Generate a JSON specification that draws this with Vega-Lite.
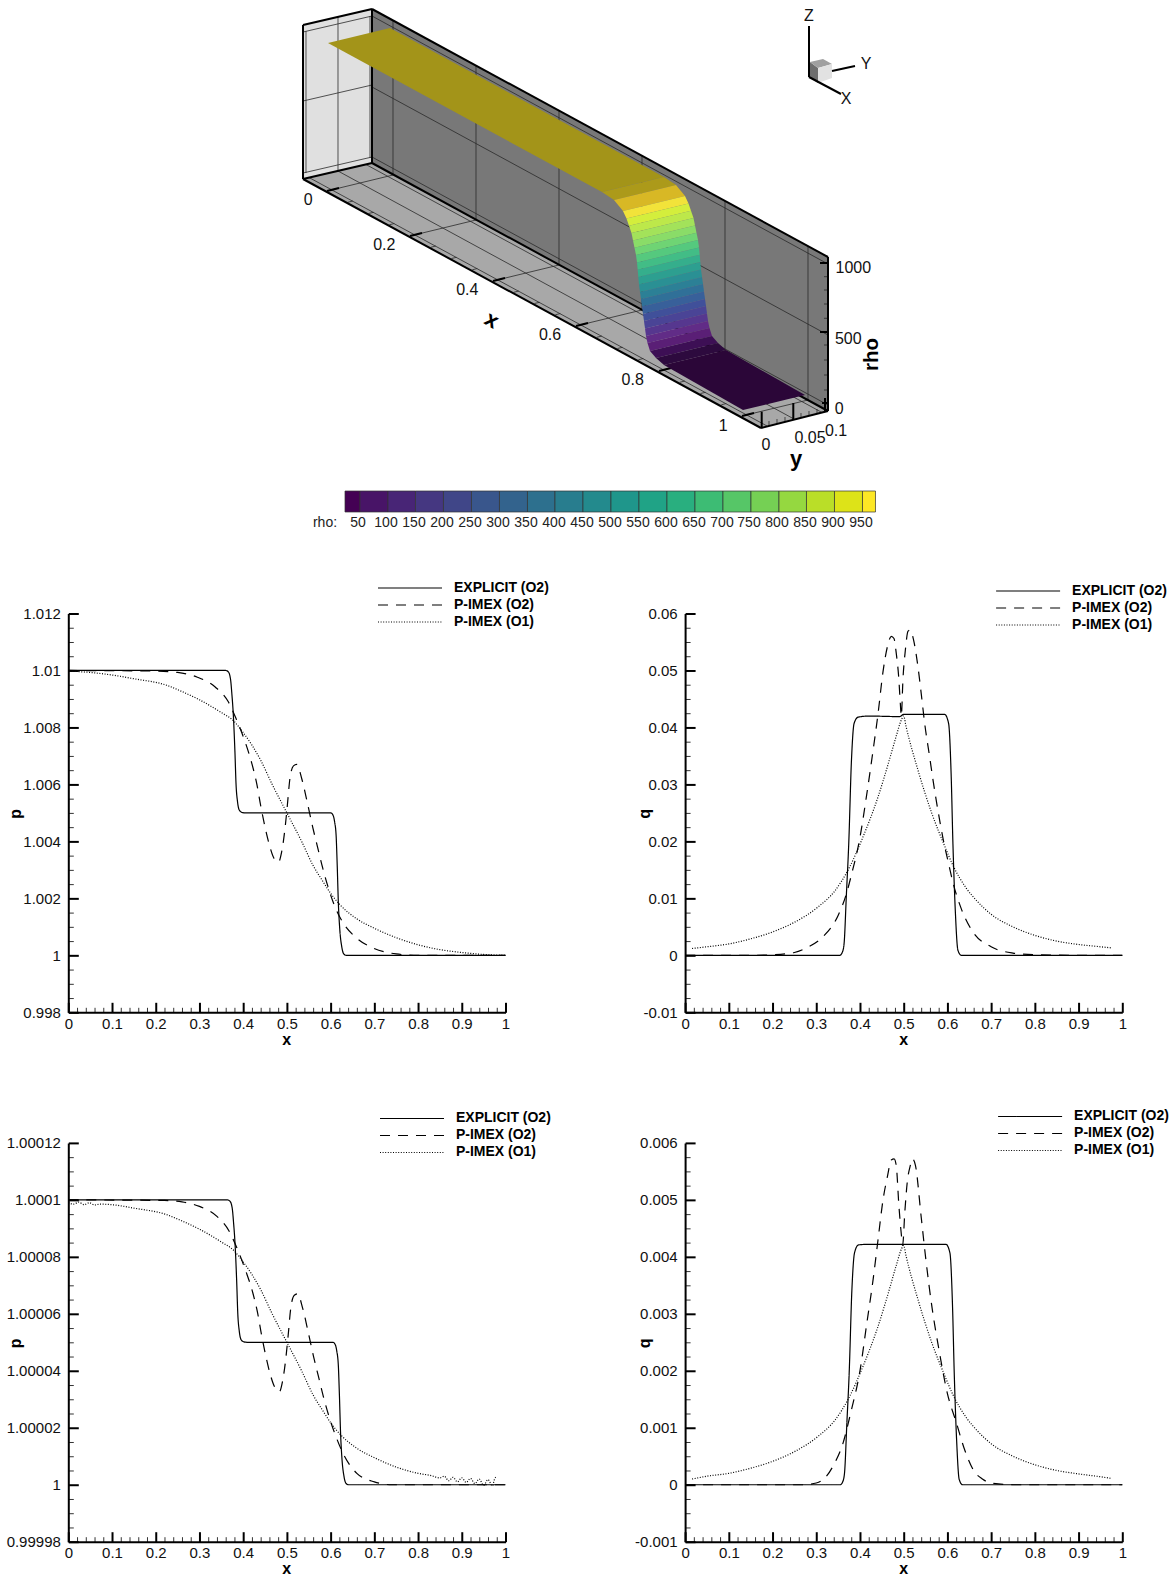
{
"$schema":"https://vega.github.io/schema/vega-lite/v6.json",
"padding":{"left":5.3,"top":0,"right":0,"bottom":0},
"bounds":"flush",
"spacing":53.5,
"resolve":{"scale":{"strokeDash":"independent","fill":"independent"},"legend":{"strokeDash":"independent"}},
"config":{"font":"Liberation Sans","view":{"stroke":null},
 "axis":{"grid":false,"domainColor":"#000","domainWidth":2,"labelColor":"#111","labelFontSize":15,"labelOverlap":false,"labelBound":false,"labelFlush":false,"titleFontSize":16,"titleFontWeight":"bold","titleColor":"#000","tickRound":false},
 "legend":{"orient":"none","title":null,"labelFontSize":14,"labelFontWeight":"bold","labelColor":"#000","symbolType":"M0,0H64","symbolSize":4,"symbolStrokeColor":"#000","symbolStrokeWidth":1.2,"labelOffset":69,"rowPadding":3,"padding":0}},
"datasets":{
"faces":[
{"part":"end","o":0,"a":303,"b":25},{"part":"end","o":1,"a":372,"b":9},{"part":"end","o":2,"a":372,"b":163},{"part":"end","o":3,"a":303,"b":179},
{"part":"wall","o":0,"a":372,"b":9},{"part":"wall","o":1,"a":828,"b":257},{"part":"wall","o":2,"a":828,"b":411},{"part":"wall","o":3,"a":372,"b":163},
{"part":"floor","o":0,"a":303,"b":179},{"part":"floor","o":1,"a":372,"b":163},{"part":"floor","o":2,"a":828,"b":411},{"part":"floor","o":3,"a":761,"b":428},
{"part":"cube left","o":0,"a":810,"b":62},{"part":"cube left","o":1,"a":818,"b":68},{"part":"cube left","o":2,"a":818,"b":83},{"part":"cube left","o":3,"a":809,"b":77},
{"part":"cube top","o":0,"a":810,"b":62},{"part":"cube top","o":1,"a":823,"b":59},{"part":"cube top","o":2,"a":832,"b":64},{"part":"cube top","o":3,"a":818,"b":68},
{"part":"cube right","o":0,"a":818,"b":68},{"part":"cube right","o":1,"a":832,"b":64},{"part":"cube right","o":2,"a":832,"b":78},{"part":"cube right","o":3,"a":818,"b":83}],
"surface":[
{"part":"s00","o":0,"a":390,"b":28},{"part":"s00","o":1,"a":664,"b":177},{"part":"s00","o":2,"a":602,"b":192},{"part":"s00","o":3,"a":328,"b":43},
{"part":"s01","o":0,"a":664,"b":177},{"part":"s01","o":1,"a":676,"b":185},{"part":"s01","o":2,"a":614,"b":200},{"part":"s01","o":3,"a":602,"b":192},
{"part":"s02","o":0,"a":676,"b":185},{"part":"s02","o":1,"a":685,"b":196},{"part":"s02","o":2,"a":623,"b":211},{"part":"s02","o":3,"a":614,"b":200},
{"part":"s03","o":0,"a":685,"b":196},{"part":"s03","o":1,"a":688.5,"b":203.4},{"part":"s03","o":2,"a":626.5,"b":218.4},{"part":"s03","o":3,"a":623,"b":211},
{"part":"s04","o":0,"a":688.5,"b":203.4},{"part":"s04","o":1,"a":691,"b":210.7},{"part":"s04","o":2,"a":629,"b":225.7},{"part":"s04","o":3,"a":626.5,"b":218.4},
{"part":"s05","o":0,"a":691,"b":210.7},{"part":"s05","o":1,"a":693.5,"b":218},{"part":"s05","o":2,"a":631.5,"b":233},{"part":"s05","o":3,"a":629,"b":225.7},
{"part":"s06","o":0,"a":693.5,"b":218},{"part":"s06","o":1,"a":695,"b":225.4},{"part":"s06","o":2,"a":633,"b":240.4},{"part":"s06","o":3,"a":631.5,"b":233},
{"part":"s07","o":0,"a":695,"b":225.4},{"part":"s07","o":1,"a":696.5,"b":232.8},{"part":"s07","o":2,"a":634.5,"b":247.8},{"part":"s07","o":3,"a":633,"b":240.4},
{"part":"s08","o":0,"a":696.5,"b":232.8},{"part":"s08","o":1,"a":698,"b":240},{"part":"s08","o":2,"a":636,"b":255},{"part":"s08","o":3,"a":634.5,"b":247.8},
{"part":"s09","o":0,"a":698,"b":240},{"part":"s09","o":1,"a":699,"b":247.5},{"part":"s09","o":2,"a":637,"b":262.5},{"part":"s09","o":3,"a":636,"b":255},
{"part":"s10","o":0,"a":699,"b":247.5},{"part":"s10","o":1,"a":699.7,"b":254.8},{"part":"s10","o":2,"a":637.7,"b":269.8},{"part":"s10","o":3,"a":637,"b":262.5},
{"part":"s11","o":0,"a":699.7,"b":254.8},{"part":"s11","o":1,"a":700.3,"b":262},{"part":"s11","o":2,"a":638.3,"b":277},{"part":"s11","o":3,"a":637.7,"b":269.8},
{"part":"s12","o":0,"a":700.3,"b":262},{"part":"s12","o":1,"a":701,"b":269.5},{"part":"s12","o":2,"a":639,"b":284.5},{"part":"s12","o":3,"a":638.3,"b":277},
{"part":"s13","o":0,"a":701,"b":269.5},{"part":"s13","o":1,"a":702,"b":276.9},{"part":"s13","o":2,"a":640,"b":291.9},{"part":"s13","o":3,"a":639,"b":284.5},
{"part":"s14","o":0,"a":702,"b":276.9},{"part":"s14","o":1,"a":703,"b":284},{"part":"s14","o":2,"a":641,"b":299},{"part":"s14","o":3,"a":640,"b":291.9},
{"part":"s15","o":0,"a":703,"b":284},{"part":"s15","o":1,"a":704,"b":291.6},{"part":"s15","o":2,"a":642,"b":306.6},{"part":"s15","o":3,"a":641,"b":299},
{"part":"s16","o":0,"a":704,"b":291.6},{"part":"s16","o":1,"a":705,"b":299},{"part":"s16","o":2,"a":643,"b":314},{"part":"s16","o":3,"a":642,"b":306.6},
{"part":"s17","o":0,"a":705,"b":299},{"part":"s17","o":1,"a":706,"b":306},{"part":"s17","o":2,"a":644,"b":321},{"part":"s17","o":3,"a":643,"b":314},
{"part":"s18","o":0,"a":706,"b":306},{"part":"s18","o":1,"a":707,"b":313.6},{"part":"s18","o":2,"a":645,"b":328.6},{"part":"s18","o":3,"a":644,"b":321},
{"part":"s19","o":0,"a":707,"b":313.6},{"part":"s19","o":1,"a":708,"b":321},{"part":"s19","o":2,"a":646,"b":336},{"part":"s19","o":3,"a":645,"b":328.6},
{"part":"s20","o":0,"a":708,"b":321},{"part":"s20","o":1,"a":709.5,"b":328},{"part":"s20","o":2,"a":647.5,"b":343},{"part":"s20","o":3,"a":646,"b":336},
{"part":"s21","o":0,"a":709.5,"b":328},{"part":"s21","o":1,"a":712,"b":336},{"part":"s21","o":2,"a":650,"b":351},{"part":"s21","o":3,"a":647.5,"b":343},
{"part":"s22","o":0,"a":712,"b":336},{"part":"s22","o":1,"a":718,"b":343},{"part":"s22","o":2,"a":656,"b":358},{"part":"s22","o":3,"a":650,"b":351},
{"part":"s23","o":0,"a":718,"b":343},{"part":"s23","o":1,"a":726,"b":350},{"part":"s23","o":2,"a":664,"b":365},{"part":"s23","o":3,"a":656,"b":358},
{"part":"s24","o":0,"a":726,"b":350},{"part":"s24","o":1,"a":805,"b":395},{"part":"s24","o":2,"a":743,"b":410},{"part":"s24","o":3,"a":664,"b":365}],
"thin":[
{"a":327,"b":191,"c":393,"d":175},{"a":410,"b":236,"c":476,"d":220},{"a":493,"b":281,"c":559,"d":265},{"a":576,"b":326,"c":642,"d":310},{"a":659,"b":371,"c":725,"d":355},{"a":742,"b":416,"c":808,"d":400},
{"a":338,"b":171,"c":794,"d":419},{"a":309,"b":177.5,"c":767,"d":426},{"a":366,"b":164.5,"c":822,"d":412.5},
{"a":393,"b":20.4,"c":393,"d":174.4},{"a":476,"b":65.6,"c":476,"d":219.6},{"a":559,"b":110.7,"c":559,"d":264.7},{"a":642,"b":155.9,"c":642,"d":309.9},{"a":725,"b":201,"c":725,"d":355},{"a":808,"b":246.1,"c":808,"d":400.1},
{"a":372,"b":87,"c":828,"d":335},{"a":372,"b":16,"c":828,"d":264},{"a":372,"b":157,"c":828,"d":405},
{"a":338,"b":17,"c":338,"d":171},{"a":303,"b":101,"c":372,"d":85},{"a":303,"b":32,"c":372,"d":16},{"a":303,"b":173,"c":372,"d":157},{"a":306,"b":31,"c":306,"d":173},{"a":370,"b":16,"c":370,"d":158},
{"a":347.8,"b":202.3,"c":352.8,"d":201},{"a":368.5,"b":213.5,"c":373.5,"d":212.3},{"a":389.3,"b":224.8,"c":394.3,"d":223.5},{"a":430.8,"b":247.3,"c":435.8,"d":246},{"a":451.5,"b":258.5,"c":456.5,"d":257.3},{"a":472.3,"b":269.8,"c":477.3,"d":268.5},{"a":513.8,"b":292.3,"c":518.8,"d":291},{"a":534.5,"b":303.5,"c":539.5,"d":302.3},{"a":555.3,"b":314.8,"c":560.3,"d":313.5},{"a":596.8,"b":337.3,"c":601.8,"d":336},{"a":617.5,"b":348.5,"c":622.5,"d":347.3},{"a":638.3,"b":359.8,"c":643.3,"d":358.5},{"a":679.8,"b":382.3,"c":684.8,"d":381},{"a":700.5,"b":393.5,"c":705.5,"d":392.3},{"a":721.3,"b":404.8,"c":726.3,"d":403.5},
{"a":769,"b":426,"c":769,"d":421},{"a":777,"b":424,"c":777,"d":419},{"a":785,"b":422,"c":785,"d":417},{"a":801,"b":418,"c":801,"d":413},{"a":809,"b":416,"c":809,"d":411},{"a":817,"b":414,"c":817,"d":409},
{"a":824,"b":276.7,"c":828,"d":276.7},{"a":824,"b":290,"c":828,"d":290},{"a":824,"b":304,"c":828,"d":304},{"a":824,"b":318.3,"c":828,"d":318.3},{"a":824,"b":345,"c":828,"d":345},{"a":824,"b":360,"c":828,"d":360},{"a":824,"b":375,"c":828,"d":375},{"a":824,"b":390,"c":828,"d":390}],
"thick":[
{"a":303,"b":25,"c":372,"d":9},{"a":372,"b":9,"c":828,"d":257},{"a":303,"b":25,"c":303,"d":179},{"a":303,"b":179,"c":372,"d":163},{"a":372,"b":9,"c":372,"d":163},{"a":303,"b":179,"c":761,"d":428},{"a":761,"b":428,"c":828,"d":411},{"a":828,"b":257,"c":828,"d":411},{"a":372,"b":163,"c":828,"d":411},
{"a":327,"b":191,"c":339,"d":188},{"a":410,"b":236,"c":422,"d":233},{"a":493,"b":281,"c":505,"d":278},{"a":576,"b":326,"c":588,"d":323},{"a":659,"b":371,"c":671,"d":368},{"a":742,"b":416,"c":754,"d":413},
{"a":761.7,"b":411.7,"c":761.7,"d":427},{"a":793.3,"b":403,"c":793.3,"d":420},{"a":825,"b":398,"c":825,"d":411.7},
{"a":820,"b":263,"c":828,"d":263},{"a":820,"b":332,"c":828,"d":332},{"a":822,"b":403,"c":828,"d":403},
{"a":809,"b":26,"c":809,"d":77},{"a":809,"b":77,"c":841,"d":94},{"a":832,"b":71,"c":855,"d":66}],
"labels":[
{"t":"0","a":308.3,"b":200},{"t":"0.2","a":384.3,"b":245},{"t":"0.4","a":467.3,"b":290},{"t":"0.6","a":550,"b":335},{"t":"0.8","a":632.7,"b":380},{"t":"1","a":723.3,"b":425.7},
{"t":"1000","a":853.3,"b":268.3},{"t":"500","a":848.3,"b":339},{"t":"0","a":839.3,"b":409.3},{"t":"0","a":766,"b":445},{"t":"0.05","a":810,"b":437.7},{"t":"0.1","a":836,"b":430.7},
{"t":"Z","a":809,"b":16},{"t":"Y","a":866,"b":64},{"t":"X","a":846,"b":99}],
"bar":[
{"band":"below 50","a":345,"c":360,"b":491,"d":512},{"band":"50-100","a":360,"c":388,"b":491,"d":512},{"band":"100-150","a":388,"c":415.5,"b":491,"d":512},{"band":"150-200","a":415.5,"c":443.5,"b":491,"d":512},{"band":"200-250","a":443.5,"c":471.5,"b":491,"d":512},{"band":"250-300","a":471.5,"c":499.5,"b":491,"d":512},{"band":"300-350","a":499.5,"c":527.5,"b":491,"d":512},{"band":"350-400","a":527.5,"c":555,"b":491,"d":512},{"band":"400-450","a":555,"c":583,"b":491,"d":512},{"band":"450-500","a":583,"c":611,"b":491,"d":512},{"band":"500-550","a":611,"c":639,"b":491,"d":512},{"band":"550-600","a":639,"c":667,"b":491,"d":512},{"band":"600-650","a":667,"c":695,"b":491,"d":512},{"band":"650-700","a":695,"c":723,"b":491,"d":512},{"band":"700-750","a":723,"c":751,"b":491,"d":512},{"band":"750-800","a":751,"c":779,"b":491,"d":512},{"band":"800-850","a":779,"c":806.5,"b":491,"d":512},{"band":"850-900","a":806.5,"c":834.5,"b":491,"d":512},{"band":"900-950","a":834.5,"c":862.5,"b":491,"d":512},{"band":"above 950","a":862.5,"c":875.5,"b":491,"d":512}],
"barlabels":[{"t":"rho:","a":325,"b":523},{"t":"50","a":358,"b":523},{"t":"100","a":386,"b":523},{"t":"150","a":414,"b":523},{"t":"200","a":442,"b":523},{"t":"250","a":470,"b":523},{"t":"300","a":498,"b":523},{"t":"350","a":526,"b":523},{"t":"400","a":554,"b":523},{"t":"450","a":582,"b":523},{"t":"500","a":610,"b":523},{"t":"550","a":638,"b":523},{"t":"600","a":666,"b":523},{"t":"650","a":694,"b":523},{"t":"700","a":722,"b":523},{"t":"750","a":749,"b":523},{"t":"800","a":777,"b":523},{"t":"850","a":805,"b":523},{"t":"900","a":833,"b":523},{"t":"950","a":861,"b":523}],
"p1":[
{"x":0,"v":1.01,"s":"EXPLICIT (O2)"},{"x":0.36,"v":1.01,"s":"EXPLICIT (O2)"},{"x":0.366,"v":1.00995,"s":"EXPLICIT (O2)"},{"x":0.371,"v":1.0097,"s":"EXPLICIT (O2)"},{"x":0.374,"v":1.0092,"s":"EXPLICIT (O2)"},{"x":0.3776,"v":1.0084,"s":"EXPLICIT (O2)"},{"x":0.381,"v":1.0072,"s":"EXPLICIT (O2)"},{"x":0.3837,"v":1.006,"s":"EXPLICIT (O2)"},{"x":0.387,"v":1.0054,"s":"EXPLICIT (O2)"},{"x":0.391,"v":1.0051,"s":"EXPLICIT (O2)"},{"x":0.397,"v":1.00502,"s":"EXPLICIT (O2)"},{"x":0.405,"v":1.005,"s":"EXPLICIT (O2)"},{"x":0.6,"v":1.005,"s":"EXPLICIT (O2)"},{"x":0.6045,"v":1.00495,"s":"EXPLICIT (O2)"},{"x":0.609,"v":1.0047,"s":"EXPLICIT (O2)"},{"x":0.6126,"v":1.0042,"s":"EXPLICIT (O2)"},{"x":0.615,"v":1.0032,"s":"EXPLICIT (O2)"},{"x":0.6178,"v":1.0018,"s":"EXPLICIT (O2)"},{"x":0.621,"v":1.0009,"s":"EXPLICIT (O2)"},{"x":0.6255,"v":1.0003,"s":"EXPLICIT (O2)"},{"x":0.63,"v":1.00005,"s":"EXPLICIT (O2)"},{"x":0.636,"v":1,"s":"EXPLICIT (O2)"},{"x":1,"v":1,"s":"EXPLICIT (O2)"},
{"x":0,"v":1.01,"s":"P-IMEX (O2)"},{"x":0.2,"v":1.00998,"s":"P-IMEX (O2)"},{"x":0.25,"v":1.00993,"s":"P-IMEX (O2)"},{"x":0.294,"v":1.00977,"s":"P-IMEX (O2)"},{"x":0.336,"v":1.00942,"s":"P-IMEX (O2)"},{"x":0.366,"v":1.0089,"s":"P-IMEX (O2)"},{"x":0.384,"v":1.0083,"s":"P-IMEX (O2)"},{"x":0.4043,"v":1.0075,"s":"P-IMEX (O2)"},{"x":0.4197,"v":1.00674,"s":"P-IMEX (O2)"},{"x":0.431,"v":1.00603,"s":"P-IMEX (O2)"},{"x":0.44,"v":1.00526,"s":"P-IMEX (O2)"},{"x":0.45,"v":1.0045,"s":"P-IMEX (O2)"},{"x":0.46,"v":1.00387,"s":"P-IMEX (O2)"},{"x":0.4707,"v":1.0034,"s":"P-IMEX (O2)"},{"x":0.4806,"v":1.00327,"s":"P-IMEX (O2)"},{"x":0.488,"v":1.00363,"s":"P-IMEX (O2)"},{"x":0.496,"v":1.0045,"s":"P-IMEX (O2)"},{"x":0.501,"v":1.00526,"s":"P-IMEX (O2)"},{"x":0.507,"v":1.00622,"s":"P-IMEX (O2)"},{"x":0.515,"v":1.00665,"s":"P-IMEX (O2)"},{"x":0.5226,"v":1.0067,"s":"P-IMEX (O2)"},{"x":0.534,"v":1.0062,"s":"P-IMEX (O2)"},{"x":0.547,"v":1.00534,"s":"P-IMEX (O2)"},{"x":0.559,"v":1.0045,"s":"P-IMEX (O2)"},{"x":0.57,"v":1.00381,"s":"P-IMEX (O2)"},{"x":0.582,"v":1.00306,"s":"P-IMEX (O2)"},{"x":0.595,"v":1.00236,"s":"P-IMEX (O2)"},{"x":0.61,"v":1.0017,"s":"P-IMEX (O2)"},{"x":0.629,"v":1.00113,"s":"P-IMEX (O2)"},{"x":0.66,"v":1.0006,"s":"P-IMEX (O2)"},{"x":0.698,"v":1.00025,"s":"P-IMEX (O2)"},{"x":0.75,"v":1.00005,"s":"P-IMEX (O2)"},{"x":0.8,"v":1,"s":"P-IMEX (O2)"},{"x":1,"v":1,"s":"P-IMEX (O2)"},
{"x":0,"v":1.00998,"s":"P-IMEX (O1)"},{"x":0.05,"v":1.00993,"s":"P-IMEX (O1)"},{"x":0.1,"v":1.00984,"s":"P-IMEX (O1)"},{"x":0.15,"v":1.00971,"s":"P-IMEX (O1)"},{"x":0.225,"v":1.00948,"s":"P-IMEX (O1)"},{"x":0.26,"v":1.00926,"s":"P-IMEX (O1)"},{"x":0.3,"v":1.00897,"s":"P-IMEX (O1)"},{"x":0.347,"v":1.00855,"s":"P-IMEX (O1)"},{"x":0.38,"v":1.0082,"s":"P-IMEX (O1)"},{"x":0.4,"v":1.00782,"s":"P-IMEX (O1)"},{"x":0.42,"v":1.00738,"s":"P-IMEX (O1)"},{"x":0.44,"v":1.00685,"s":"P-IMEX (O1)"},{"x":0.4654,"v":1.00603,"s":"P-IMEX (O1)"},{"x":0.5,"v":1.005,"s":"P-IMEX (O1)"},{"x":0.5346,"v":1.00397,"s":"P-IMEX (O1)"},{"x":0.56,"v":1.00315,"s":"P-IMEX (O1)"},{"x":0.58,"v":1.00265,"s":"P-IMEX (O1)"},{"x":0.6,"v":1.00218,"s":"P-IMEX (O1)"},{"x":0.623,"v":1.00175,"s":"P-IMEX (O1)"},{"x":0.66,"v":1.00128,"s":"P-IMEX (O1)"},{"x":0.7,"v":1.00095,"s":"P-IMEX (O1)"},{"x":0.75,"v":1.00062,"s":"P-IMEX (O1)"},{"x":0.8,"v":1.00037,"s":"P-IMEX (O1)"},{"x":0.85,"v":1.0002,"s":"P-IMEX (O1)"},{"x":0.9,"v":1.0001,"s":"P-IMEX (O1)"},{"x":0.95,"v":1.00003,"s":"P-IMEX (O1)"},{"x":1,"v":1,"s":"P-IMEX (O1)"}],
"q1":[
{"x":0,"v":0,"s":"EXPLICIT (O2)"},{"x":0.3537,"v":0,"s":"EXPLICIT (O2)"},{"x":0.36,"v":0.0006,"s":"EXPLICIT (O2)"},{"x":0.3637,"v":0.0021,"s":"EXPLICIT (O2)"},{"x":0.369,"v":0.0108,"s":"EXPLICIT (O2)"},{"x":0.3743,"v":0.0196,"s":"EXPLICIT (O2)"},{"x":0.3805,"v":0.0342,"s":"EXPLICIT (O2)"},{"x":0.3865,"v":0.0407,"s":"EXPLICIT (O2)"},{"x":0.3956,"v":0.0418,"s":"EXPLICIT (O2)"},{"x":0.42,"v":0.042,"s":"EXPLICIT (O2)"},{"x":0.4908,"v":0.0419,"s":"EXPLICIT (O2)"},{"x":0.5,"v":0.0423,"s":"EXPLICIT (O2)"},{"x":0.5936,"v":0.0423,"s":"EXPLICIT (O2)"},{"x":0.6027,"v":0.0407,"s":"EXPLICIT (O2)"},{"x":0.6087,"v":0.0313,"s":"EXPLICIT (O2)"},{"x":0.6126,"v":0.0196,"s":"EXPLICIT (O2)"},{"x":0.618,"v":0.0079,"s":"EXPLICIT (O2)"},{"x":0.624,"v":0.0009,"s":"EXPLICIT (O2)"},{"x":0.6316,"v":0,"s":"EXPLICIT (O2)"},{"x":1,"v":0,"s":"EXPLICIT (O2)"},
{"x":0,"v":0,"s":"P-IMEX (O2)"},{"x":0.15,"v":0,"s":"P-IMEX (O2)"},{"x":0.2,"v":0.0001,"s":"P-IMEX (O2)"},{"x":0.25,"v":0.0005,"s":"P-IMEX (O2)"},{"x":0.28,"v":0.0014,"s":"P-IMEX (O2)"},{"x":0.3157,"v":0.0033,"s":"P-IMEX (O2)"},{"x":0.35,"v":0.007,"s":"P-IMEX (O2)"},{"x":0.369,"v":0.0108,"s":"P-IMEX (O2)"},{"x":0.38,"v":0.014,"s":"P-IMEX (O2)"},{"x":0.3995,"v":0.0205,"s":"P-IMEX (O2)"},{"x":0.4146,"v":0.0278,"s":"P-IMEX (O2)"},{"x":0.43,"v":0.036,"s":"P-IMEX (O2)"},{"x":0.4413,"v":0.0424,"s":"P-IMEX (O2)"},{"x":0.4527,"v":0.0498,"s":"P-IMEX (O2)"},{"x":0.4625,"v":0.0541,"s":"P-IMEX (O2)"},{"x":0.4717,"v":0.056,"s":"P-IMEX (O2)"},{"x":0.4778,"v":0.0556,"s":"P-IMEX (O2)"},{"x":0.483,"v":0.053,"s":"P-IMEX (O2)"},{"x":0.4886,"v":0.0488,"s":"P-IMEX (O2)"},{"x":0.4923,"v":0.0442,"s":"P-IMEX (O2)"},{"x":0.4945,"v":0.042,"s":"P-IMEX (O2)"},{"x":0.4984,"v":0.0486,"s":"P-IMEX (O2)"},{"x":0.5037,"v":0.0535,"s":"P-IMEX (O2)"},{"x":0.51,"v":0.0569,"s":"P-IMEX (O2)"},{"x":0.515,"v":0.0571,"s":"P-IMEX (O2)"},{"x":0.5228,"v":0.0553,"s":"P-IMEX (O2)"},{"x":0.5327,"v":0.0506,"s":"P-IMEX (O2)"},{"x":0.5403,"v":0.0458,"s":"P-IMEX (O2)"},{"x":0.548,"v":0.0407,"s":"P-IMEX (O2)"},{"x":0.5594,"v":0.0348,"s":"P-IMEX (O2)"},{"x":0.567,"v":0.0308,"s":"P-IMEX (O2)"},{"x":0.5784,"v":0.0254,"s":"P-IMEX (O2)"},{"x":0.59,"v":0.0205,"s":"P-IMEX (O2)"},{"x":0.6027,"v":0.0161,"s":"P-IMEX (O2)"},{"x":0.6126,"v":0.0128,"s":"P-IMEX (O2)"},{"x":0.6316,"v":0.0082,"s":"P-IMEX (O2)"},{"x":0.6583,"v":0.0041,"s":"P-IMEX (O2)"},{"x":0.7,"v":0.0015,"s":"P-IMEX (O2)"},{"x":0.75,"v":0.0004,"s":"P-IMEX (O2)"},{"x":0.8,"v":0.0001,"s":"P-IMEX (O2)"},{"x":0.9,"v":0,"s":"P-IMEX (O2)"},{"x":1,"v":0,"s":"P-IMEX (O2)"},
{"x":0.016,"v":0.0012,"s":"P-IMEX (O1)"},{"x":0.05,"v":0.0015,"s":"P-IMEX (O1)"},{"x":0.1,"v":0.002,"s":"P-IMEX (O1)"},{"x":0.15,"v":0.0029,"s":"P-IMEX (O1)"},{"x":0.2,"v":0.0041,"s":"P-IMEX (O1)"},{"x":0.25,"v":0.0058,"s":"P-IMEX (O1)"},{"x":0.3043,"v":0.0085,"s":"P-IMEX (O1)"},{"x":0.3424,"v":0.0113,"s":"P-IMEX (O1)"},{"x":0.3743,"v":0.0152,"s":"P-IMEX (O1)"},{"x":0.407,"v":0.0208,"s":"P-IMEX (O1)"},{"x":0.4413,"v":0.0278,"s":"P-IMEX (O1)"},{"x":0.468,"v":0.0345,"s":"P-IMEX (O1)"},{"x":0.483,"v":0.0385,"s":"P-IMEX (O1)"},{"x":0.4945,"v":0.0413,"s":"P-IMEX (O1)"},{"x":0.5,"v":0.042,"s":"P-IMEX (O1)"},{"x":0.505,"v":0.0403,"s":"P-IMEX (O1)"},{"x":0.5327,"v":0.0325,"s":"P-IMEX (O1)"},{"x":0.563,"v":0.0252,"s":"P-IMEX (O1)"},{"x":0.5936,"v":0.0192,"s":"P-IMEX (O1)"},{"x":0.6126,"v":0.0158,"s":"P-IMEX (O1)"},{"x":0.643,"v":0.0118,"s":"P-IMEX (O1)"},{"x":0.668,"v":0.0095,"s":"P-IMEX (O1)"},{"x":0.7,"v":0.0072,"s":"P-IMEX (O1)"},{"x":0.75,"v":0.005,"s":"P-IMEX (O1)"},{"x":0.8,"v":0.0035,"s":"P-IMEX (O1)"},{"x":0.85,"v":0.0025,"s":"P-IMEX (O1)"},{"x":0.9,"v":0.0019,"s":"P-IMEX (O1)"},{"x":0.95,"v":0.0015,"s":"P-IMEX (O1)"},{"x":0.976,"v":0.0013,"s":"P-IMEX (O1)"}],
"p2":[
{"x":0,"v":1.0001,"s":"EXPLICIT (O2)"},{"x":0.364,"v":1.0001,"s":"EXPLICIT (O2)"},{"x":0.37,"v":1.0000995,"s":"EXPLICIT (O2)"},{"x":0.375,"v":1.000097,"s":"EXPLICIT (O2)"},{"x":0.378,"v":1.000092,"s":"EXPLICIT (O2)"},{"x":0.3816,"v":1.000084,"s":"EXPLICIT (O2)"},{"x":0.385,"v":1.000072,"s":"EXPLICIT (O2)"},{"x":0.3877,"v":1.00006,"s":"EXPLICIT (O2)"},{"x":0.391,"v":1.000054,"s":"EXPLICIT (O2)"},{"x":0.395,"v":1.000051,"s":"EXPLICIT (O2)"},{"x":0.401,"v":1.0000502,"s":"EXPLICIT (O2)"},{"x":0.41,"v":1.00005,"s":"EXPLICIT (O2)"},{"x":0.605,"v":1.00005,"s":"EXPLICIT (O2)"},{"x":0.6095,"v":1.0000495,"s":"EXPLICIT (O2)"},{"x":0.614,"v":1.000047,"s":"EXPLICIT (O2)"},{"x":0.6176,"v":1.000042,"s":"EXPLICIT (O2)"},{"x":0.62,"v":1.000032,"s":"EXPLICIT (O2)"},{"x":0.6228,"v":1.000018,"s":"EXPLICIT (O2)"},{"x":0.626,"v":1.000009,"s":"EXPLICIT (O2)"},{"x":0.6305,"v":1.000003,"s":"EXPLICIT (O2)"},{"x":0.635,"v":1.0000005,"s":"EXPLICIT (O2)"},{"x":0.641,"v":1,"s":"EXPLICIT (O2)"},{"x":1,"v":1,"s":"EXPLICIT (O2)"},
{"x":0,"v":1.0001,"s":"P-IMEX (O2)"},{"x":0.22,"v":1.0000998,"s":"P-IMEX (O2)"},{"x":0.26,"v":1.0000993,"s":"P-IMEX (O2)"},{"x":0.3,"v":1.0000977,"s":"P-IMEX (O2)"},{"x":0.34,"v":1.0000942,"s":"P-IMEX (O2)"},{"x":0.368,"v":1.000089,"s":"P-IMEX (O2)"},{"x":0.386,"v":1.000083,"s":"P-IMEX (O2)"},{"x":0.406,"v":1.000075,"s":"P-IMEX (O2)"},{"x":0.422,"v":1.0000674,"s":"P-IMEX (O2)"},{"x":0.433,"v":1.0000603,"s":"P-IMEX (O2)"},{"x":0.442,"v":1.0000526,"s":"P-IMEX (O2)"},{"x":0.452,"v":1.000045,"s":"P-IMEX (O2)"},{"x":0.462,"v":1.0000387,"s":"P-IMEX (O2)"},{"x":0.473,"v":1.000034,"s":"P-IMEX (O2)"},{"x":0.483,"v":1.0000327,"s":"P-IMEX (O2)"},{"x":0.49,"v":1.0000363,"s":"P-IMEX (O2)"},{"x":0.498,"v":1.000045,"s":"P-IMEX (O2)"},{"x":0.503,"v":1.0000526,"s":"P-IMEX (O2)"},{"x":0.509,"v":1.0000622,"s":"P-IMEX (O2)"},{"x":0.517,"v":1.0000665,"s":"P-IMEX (O2)"},{"x":0.5246,"v":1.000067,"s":"P-IMEX (O2)"},{"x":0.536,"v":1.000062,"s":"P-IMEX (O2)"},{"x":0.549,"v":1.0000534,"s":"P-IMEX (O2)"},{"x":0.561,"v":1.000045,"s":"P-IMEX (O2)"},{"x":0.572,"v":1.0000381,"s":"P-IMEX (O2)"},{"x":0.584,"v":1.0000306,"s":"P-IMEX (O2)"},{"x":0.597,"v":1.0000236,"s":"P-IMEX (O2)"},{"x":0.612,"v":1.000017,"s":"P-IMEX (O2)"},{"x":0.63,"v":1.0000105,"s":"P-IMEX (O2)"},{"x":0.66,"v":1.000004,"s":"P-IMEX (O2)"},{"x":0.7,"v":1.000001,"s":"P-IMEX (O2)"},{"x":0.74,"v":1,"s":"P-IMEX (O2)"},{"x":1,"v":1,"s":"P-IMEX (O2)"},
{"x":0,"v":1.000099,"s":"P-IMEX (O1)"},{"x":0.012,"v":1.0000985,"s":"P-IMEX (O1)"},{"x":0.024,"v":1.0000992,"s":"P-IMEX (O1)"},{"x":0.036,"v":1.0000983,"s":"P-IMEX (O1)"},{"x":0.048,"v":1.000099,"s":"P-IMEX (O1)"},{"x":0.06,"v":1.0000982,"s":"P-IMEX (O1)"},{"x":0.0725,"v":1.0000985,"s":"P-IMEX (O1)"},{"x":0.1,"v":1.0000983,"s":"P-IMEX (O1)"},{"x":0.15,"v":1.0000971,"s":"P-IMEX (O1)"},{"x":0.225,"v":1.0000948,"s":"P-IMEX (O1)"},{"x":0.26,"v":1.0000926,"s":"P-IMEX (O1)"},{"x":0.3,"v":1.0000897,"s":"P-IMEX (O1)"},{"x":0.347,"v":1.0000855,"s":"P-IMEX (O1)"},{"x":0.38,"v":1.000082,"s":"P-IMEX (O1)"},{"x":0.4,"v":1.0000782,"s":"P-IMEX (O1)"},{"x":0.42,"v":1.0000738,"s":"P-IMEX (O1)"},{"x":0.44,"v":1.0000685,"s":"P-IMEX (O1)"},{"x":0.4654,"v":1.0000603,"s":"P-IMEX (O1)"},{"x":0.5,"v":1.00005,"s":"P-IMEX (O1)"},{"x":0.5346,"v":1.0000397,"s":"P-IMEX (O1)"},{"x":0.56,"v":1.0000315,"s":"P-IMEX (O1)"},{"x":0.58,"v":1.0000265,"s":"P-IMEX (O1)"},{"x":0.6,"v":1.0000218,"s":"P-IMEX (O1)"},{"x":0.623,"v":1.0000175,"s":"P-IMEX (O1)"},{"x":0.66,"v":1.0000128,"s":"P-IMEX (O1)"},{"x":0.7,"v":1.0000095,"s":"P-IMEX (O1)"},{"x":0.75,"v":1.0000062,"s":"P-IMEX (O1)"},{"x":0.8,"v":1.000004,"s":"P-IMEX (O1)"},{"x":0.83,"v":1.0000032,"s":"P-IMEX (O1)"},{"x":0.85,"v":1.0000024,"s":"P-IMEX (O1)"},{"x":0.86,"v":1.000003,"s":"P-IMEX (O1)"},{"x":0.87,"v":1.0000014,"s":"P-IMEX (O1)"},{"x":0.88,"v":1.0000026,"s":"P-IMEX (O1)"},{"x":0.89,"v":1.000001,"s":"P-IMEX (O1)"},{"x":0.9,"v":1.0000024,"s":"P-IMEX (O1)"},{"x":0.91,"v":1.0000008,"s":"P-IMEX (O1)"},{"x":0.92,"v":1.0000022,"s":"P-IMEX (O1)"},{"x":0.93,"v":1.0000004,"s":"P-IMEX (O1)"},{"x":0.94,"v":1.000002,"s":"P-IMEX (O1)"},{"x":0.95,"v":0.9999998,"s":"P-IMEX (O1)"},{"x":0.96,"v":1.0000018,"s":"P-IMEX (O1)"},{"x":0.97,"v":0.9999996,"s":"P-IMEX (O1)"},{"x":0.975,"v":1.000002,"s":"P-IMEX (O1)"},{"x":0.98,"v":1.000003,"s":"P-IMEX (O1)"}],
"q2":[
{"x":0,"v":0,"s":"EXPLICIT (O2)"},{"x":0.355,"v":0,"s":"EXPLICIT (O2)"},{"x":0.361,"v":0.00006,"s":"EXPLICIT (O2)"},{"x":0.3647,"v":0.00021,"s":"EXPLICIT (O2)"},{"x":0.37,"v":0.00108,"s":"EXPLICIT (O2)"},{"x":0.3753,"v":0.00196,"s":"EXPLICIT (O2)"},{"x":0.3815,"v":0.00342,"s":"EXPLICIT (O2)"},{"x":0.3875,"v":0.00407,"s":"EXPLICIT (O2)"},{"x":0.3966,"v":0.00421,"s":"EXPLICIT (O2)"},{"x":0.42,"v":0.00422,"s":"EXPLICIT (O2)"},{"x":0.5,"v":0.00422,"s":"EXPLICIT (O2)"},{"x":0.5966,"v":0.00422,"s":"EXPLICIT (O2)"},{"x":0.6057,"v":0.00407,"s":"EXPLICIT (O2)"},{"x":0.6117,"v":0.00313,"s":"EXPLICIT (O2)"},{"x":0.6156,"v":0.00196,"s":"EXPLICIT (O2)"},{"x":0.621,"v":0.00079,"s":"EXPLICIT (O2)"},{"x":0.627,"v":0.00009,"s":"EXPLICIT (O2)"},{"x":0.6346,"v":0,"s":"EXPLICIT (O2)"},{"x":1,"v":0,"s":"EXPLICIT (O2)"},
{"x":0,"v":0,"s":"P-IMEX (O2)"},{"x":0.27,"v":0,"s":"P-IMEX (O2)"},{"x":0.3,"v":0.00003,"s":"P-IMEX (O2)"},{"x":0.32,"v":0.00012,"s":"P-IMEX (O2)"},{"x":0.34,"v":0.00035,"s":"P-IMEX (O2)"},{"x":0.36,"v":0.0007,"s":"P-IMEX (O2)"},{"x":0.38,"v":0.0013,"s":"P-IMEX (O2)"},{"x":0.4,"v":0.002,"s":"P-IMEX (O2)"},{"x":0.415,"v":0.0028,"s":"P-IMEX (O2)"},{"x":0.43,"v":0.0036,"s":"P-IMEX (O2)"},{"x":0.4413,"v":0.0043,"s":"P-IMEX (O2)"},{"x":0.4527,"v":0.005,"s":"P-IMEX (O2)"},{"x":0.4625,"v":0.0054,"s":"P-IMEX (O2)"},{"x":0.4717,"v":0.0057,"s":"P-IMEX (O2)"},{"x":0.478,"v":0.00572,"s":"P-IMEX (O2)"},{"x":0.483,"v":0.0056,"s":"P-IMEX (O2)"},{"x":0.489,"v":0.0049,"s":"P-IMEX (O2)"},{"x":0.4945,"v":0.0044,"s":"P-IMEX (O2)"},{"x":0.4975,"v":0.0042,"s":"P-IMEX (O2)"},{"x":0.5027,"v":0.0048,"s":"P-IMEX (O2)"},{"x":0.508,"v":0.0053,"s":"P-IMEX (O2)"},{"x":0.515,"v":0.0056,"s":"P-IMEX (O2)"},{"x":0.52,"v":0.00572,"s":"P-IMEX (O2)"},{"x":0.527,"v":0.0056,"s":"P-IMEX (O2)"},{"x":0.54,"v":0.0047,"s":"P-IMEX (O2)"},{"x":0.55,"v":0.004,"s":"P-IMEX (O2)"},{"x":0.565,"v":0.0031,"s":"P-IMEX (O2)"},{"x":0.58,"v":0.0024,"s":"P-IMEX (O2)"},{"x":0.6,"v":0.0016,"s":"P-IMEX (O2)"},{"x":0.62,"v":0.0011,"s":"P-IMEX (O2)"},{"x":0.64,"v":0.0006,"s":"P-IMEX (O2)"},{"x":0.66,"v":0.00025,"s":"P-IMEX (O2)"},{"x":0.68,"v":0.0001,"s":"P-IMEX (O2)"},{"x":0.7,"v":0.00003,"s":"P-IMEX (O2)"},{"x":0.75,"v":0,"s":"P-IMEX (O2)"},{"x":1,"v":0,"s":"P-IMEX (O2)"},
{"x":0.016,"v":0.0001,"s":"P-IMEX (O1)"},{"x":0.05,"v":0.00015,"s":"P-IMEX (O1)"},{"x":0.1,"v":0.0002,"s":"P-IMEX (O1)"},{"x":0.15,"v":0.00029,"s":"P-IMEX (O1)"},{"x":0.2,"v":0.00041,"s":"P-IMEX (O1)"},{"x":0.25,"v":0.00058,"s":"P-IMEX (O1)"},{"x":0.3043,"v":0.00085,"s":"P-IMEX (O1)"},{"x":0.3424,"v":0.00113,"s":"P-IMEX (O1)"},{"x":0.3743,"v":0.00152,"s":"P-IMEX (O1)"},{"x":0.407,"v":0.00208,"s":"P-IMEX (O1)"},{"x":0.4413,"v":0.00278,"s":"P-IMEX (O1)"},{"x":0.468,"v":0.00345,"s":"P-IMEX (O1)"},{"x":0.483,"v":0.00385,"s":"P-IMEX (O1)"},{"x":0.4945,"v":0.00413,"s":"P-IMEX (O1)"},{"x":0.5,"v":0.0042,"s":"P-IMEX (O1)"},{"x":0.505,"v":0.00403,"s":"P-IMEX (O1)"},{"x":0.5327,"v":0.00325,"s":"P-IMEX (O1)"},{"x":0.563,"v":0.00252,"s":"P-IMEX (O1)"},{"x":0.5936,"v":0.00192,"s":"P-IMEX (O1)"},{"x":0.6126,"v":0.00158,"s":"P-IMEX (O1)"},{"x":0.643,"v":0.00118,"s":"P-IMEX (O1)"},{"x":0.668,"v":0.00095,"s":"P-IMEX (O1)"},{"x":0.7,"v":0.00072,"s":"P-IMEX (O1)"},{"x":0.75,"v":0.0005,"s":"P-IMEX (O1)"},{"x":0.8,"v":0.00035,"s":"P-IMEX (O1)"},{"x":0.85,"v":0.00025,"s":"P-IMEX (O1)"},{"x":0.9,"v":0.00019,"s":"P-IMEX (O1)"},{"x":0.95,"v":0.00014,"s":"P-IMEX (O1)"},{"x":0.976,"v":0.00011,"s":"P-IMEX (O1)"}]
},
"vconcat":[
{"width":1106.7,"height":560,
 "encoding":{"x":{"field":"a","type":"quantitative","axis":null,"scale":{"domain":[68.3,1175],"nice":false,"zero":false}},"y":{"field":"b","type":"quantitative","axis":null,"scale":{"domain":[0,560],"reverse":true,"nice":false}}},
 "layer":[
 {"data":{"name":"faces"},"mark":{"type":"line","filled":true,"strokeWidth":0.4},
  "encoding":{"order":{"field":"o"},
  "fill":{"field":"part","type":"nominal","legend":null,"scale":{"domain":["end","wall","floor","cube left","cube top","cube right"],"range":["#e0e0e0","#787878","#a8a8a8","#6e6e6e","#a0a0a0","#e2e2e2"]}}}},
 {"data":{"name":"thin"},"mark":{"type":"rule","color":"#2a2a2a","strokeWidth":0.8},
  "encoding":{"x2":{"field":"c"},"y2":{"field":"d"}}},
 {"data":{"name":"thick"},"mark":{"type":"rule","color":"#000","strokeWidth":2},
  "encoding":{"x2":{"field":"c"},"y2":{"field":"d"}}},
 {"data":{"name":"surface"},"mark":{"type":"line","filled":true,"strokeWidth":0.4},
  "encoding":{"order":{"field":"o"},
  "fill":{"field":"part","type":"nominal","legend":null,"scale":{"domain":["s00","s01","s02","s03","s04","s05","s06","s07","s08","s09","s10","s11","s12","s13","s14","s15","s16","s17","s18","s19","s20","s21","s22","s23","s24"],"range":["#a39419","#ac9a1a","#d8b825","#f2e33a","#d4ee3c","#bde84a","#a3e25a","#8adc68","#6fd474","#55c97e","#42bd86","#35ae8c","#2d9f90","#2a9094","#2c8096","#307098","#38609a","#40509a","#4a4496","#56378f","#612c87","#5a1f76","#3d0f55","#2d0a3e","#2b0638"]}}}},
 {"data":{"name":"bar"},"mark":{"type":"rect","stroke":"#333","strokeWidth":0.7},
  "encoding":{"x2":{"field":"c"},"y2":{"field":"d"},
  "fill":{"field":"band","type":"nominal","legend":null,"scale":{"domain":["below 50","50-100","100-150","150-200","200-250","250-300","300-350","350-400","400-450","450-500","500-550","550-600","600-650","650-700","700-750","750-800","800-850","850-900","900-950","above 950"],"range":["#440154","#481467","#482576","#453781","#404688","#39568c","#33638d","#2d708e","#287d8e","#238a8d","#1f968b","#20a386","#29af7f","#3dbc74","#56c667","#75d054","#95d840","#bade28","#dde318","#fde725"]}}}},
 {"data":{"name":"labels"},"mark":{"type":"text","fontSize":16,"color":"#111"},
  "encoding":{"text":{"field":"t"}}},
 {"data":{"name":"barlabels"},"mark":{"type":"text","fontSize":14,"color":"#222"},
  "encoding":{"text":{"field":"t"}}},
 {"data":{"values":[{"t":"x","a":491.7,"b":320}]},"mark":{"type":"text","fontSize":22,"fontWeight":"bold","angle":30,"color":"#000"},
  "encoding":{"text":{"field":"t"}}},
 {"data":{"values":[{"t":"rho","a":872.5,"b":354.5}]},"mark":{"type":"text","fontSize":20.5,"fontWeight":"bold","angle":270,"color":"#000"},
  "encoding":{"text":{"field":"t"}}},
 {"data":{"values":[{"t":"y","a":796,"b":459}]},"mark":{"type":"text","fontSize":22,"fontWeight":"bold","color":"#000"},
  "encoding":{"text":{"field":"t"}}}
 ],
 "resolve":{"scale":{"fill":"independent"}}},
{"bounds":"flush","spacing":529.4,
 "resolve":{"scale":{"strokeDash":"independent"},"legend":{"strokeDash":"independent"}},
 "vconcat":[
 {"bounds":"flush","spacing":178.8,
  "resolve":{"scale":{"strokeDash":"independent"},"legend":{"strokeDash":"independent"}},
  "hconcat":[
  {"width":437.2,"height":398.8,"data":{"name":"p1"},"mark":{"type":"line","interpolate":"monotone","color":"#000","strokeWidth":1.2},
   "encoding":{"x":{"field":"x","type":"quantitative","title":"x","scale":{"domain":[0,1],"nice":false},"axis":{"values":[0,0.02,0.04,0.06,0.08,0.1,0.12,0.14,0.16,0.18,0.2,0.22,0.24,0.26,0.28,0.3,0.32,0.34,0.36,0.38,0.4,0.42,0.44,0.46,0.48,0.5,0.52,0.54,0.56,0.58,0.6,0.62,0.64,0.66,0.68,0.7,0.72,0.74,0.76,0.78,0.8,0.82,0.84,0.86,0.88,0.9,0.92,0.94,0.96,0.98,1],"format":".2~f","labelExpr":"abs(datum.value*10-round(datum.value*10))<1e-6 ? datum.label : ''","tickSize":{"condition":{"test":"abs(datum.value*10-round(datum.value*10))<1e-6","value":-10},"value":-5},"tickWidth":{"condition":{"test":"abs(datum.value*10-round(datum.value*10))<1e-6","value":2},"value":1},"tickColor":{"condition":{"test":"abs(datum.value*10-round(datum.value*10))<1e-6","value":"#000"},"value":"#333"},"labelPadding":14,"titleX":218,"titleY":19}},
   "y":{"field":"v","type":"quantitative","title":"p","scale":{"domain":[0.998,1.012],"nice":false,"zero":false},"axis":{"values":[0.998,0.9985,0.999,0.9995,1,1.0005,1.001,1.0015,1.002,1.0025,1.003,1.0035,1.004,1.0045,1.005,1.0055,1.006,1.0065,1.007,1.0075,1.008,1.0085,1.009,1.0095,1.01,1.0105,1.011,1.0115,1.012],"format":".3~f","labelExpr":"abs(datum.value*500-round(datum.value*500))<1e-5 ? datum.label : ''","tickSize":{"condition":{"test":"abs(datum.value*500-round(datum.value*500))<1e-5","value":-10},"value":-5},"tickWidth":{"condition":{"test":"abs(datum.value*500-round(datum.value*500))<1e-5","value":2},"value":1},"tickColor":{"condition":{"test":"abs(datum.value*500-round(datum.value*500))<1e-5","value":"#000"},"value":"#333"},"labelPadding":18,"titleX":-45,"titleY":200}},
   "strokeDash":{"field":"s","type":"nominal","scale":{"domain":["EXPLICIT (O2)","P-IMEX (O2)","P-IMEX (O1)"],"range":[[1,0],[10,8],[1,1.6]]},"legend":{"legendX":302.7,"legendY":-32.5}}}},
  {"width":437.2,"height":398.8,"data":{"name":"q1"},"mark":{"type":"line","interpolate":"monotone","color":"#000","strokeWidth":1.2},
   "encoding":{"x":{"field":"x","type":"quantitative","title":"x","scale":{"domain":[0,1],"nice":false},"axis":{"values":[0,0.02,0.04,0.06,0.08,0.1,0.12,0.14,0.16,0.18,0.2,0.22,0.24,0.26,0.28,0.3,0.32,0.34,0.36,0.38,0.4,0.42,0.44,0.46,0.48,0.5,0.52,0.54,0.56,0.58,0.6,0.62,0.64,0.66,0.68,0.7,0.72,0.74,0.76,0.78,0.8,0.82,0.84,0.86,0.88,0.9,0.92,0.94,0.96,0.98,1],"format":".2~f","labelExpr":"abs(datum.value*10-round(datum.value*10))<1e-6 ? datum.label : ''","tickSize":{"condition":{"test":"abs(datum.value*10-round(datum.value*10))<1e-6","value":-10},"value":-5},"tickWidth":{"condition":{"test":"abs(datum.value*10-round(datum.value*10))<1e-6","value":2},"value":1},"tickColor":{"condition":{"test":"abs(datum.value*10-round(datum.value*10))<1e-6","value":"#000"},"value":"#333"},"labelPadding":14,"titleX":218,"titleY":19}},
   "y":{"field":"v","type":"quantitative","title":"q","scale":{"domain":[-0.01,0.06],"nice":false},"axis":{"values":[-0.01,-0.0075,-0.005,-0.0025,0,0.0025,0.005,0.0075,0.01,0.0125,0.015,0.0175,0.02,0.0225,0.025,0.0275,0.03,0.0325,0.035,0.0375,0.04,0.0425,0.045,0.0475,0.05,0.0525,0.055,0.0575,0.06],"format":".3~f","labelExpr":"abs(datum.value*100-round(datum.value*100))<1e-6 ? replace(datum.label,'−','-') : ''","tickSize":{"condition":{"test":"abs(datum.value*100-round(datum.value*100))<1e-6","value":-10},"value":-5},"tickWidth":{"condition":{"test":"abs(datum.value*100-round(datum.value*100))<1e-6","value":2},"value":1},"tickColor":{"condition":{"test":"abs(datum.value*100-round(datum.value*100))<1e-6","value":"#000"},"value":"#333"},"labelPadding":18,"titleX":-33,"titleY":200}},
   "strokeDash":{"field":"s","type":"nominal","scale":{"domain":["EXPLICIT (O2)","P-IMEX (O2)","P-IMEX (O1)"],"range":[[1,0],[10,8],[1,1.6]]},"legend":{"legendX":304,"legendY":-29.5}}}}
 ]},
 {"bounds":"flush","spacing":178.8,
  "resolve":{"scale":{"strokeDash":"independent"},"legend":{"strokeDash":"independent"}},
  "hconcat":[
  {"width":437.2,"height":398.8,"data":{"name":"p2"},"mark":{"type":"line","interpolate":"monotone","color":"#000","strokeWidth":1.2},
   "encoding":{"x":{"field":"x","type":"quantitative","title":"x","scale":{"domain":[0,1],"nice":false},"axis":{"values":[0,0.02,0.04,0.06,0.08,0.1,0.12,0.14,0.16,0.18,0.2,0.22,0.24,0.26,0.28,0.3,0.32,0.34,0.36,0.38,0.4,0.42,0.44,0.46,0.48,0.5,0.52,0.54,0.56,0.58,0.6,0.62,0.64,0.66,0.68,0.7,0.72,0.74,0.76,0.78,0.8,0.82,0.84,0.86,0.88,0.9,0.92,0.94,0.96,0.98,1],"format":".2~f","labelExpr":"abs(datum.value*10-round(datum.value*10))<1e-6 ? datum.label : ''","tickSize":{"condition":{"test":"abs(datum.value*10-round(datum.value*10))<1e-6","value":-10},"value":-5},"tickWidth":{"condition":{"test":"abs(datum.value*10-round(datum.value*10))<1e-6","value":2},"value":1},"tickColor":{"condition":{"test":"abs(datum.value*10-round(datum.value*10))<1e-6","value":"#000"},"value":"#333"},"labelPadding":14,"titleX":218,"titleY":19}},
   "y":{"field":"v","type":"quantitative","title":"p","scale":{"domain":[0.99998,1.00012],"nice":false,"zero":false},"axis":{"values":[0.99998,0.999985,0.99999,0.999995,1,1.000005,1.00001,1.000015,1.00002,1.000025,1.00003,1.000035,1.00004,1.000045,1.00005,1.000055,1.00006,1.000065,1.00007,1.000075,1.00008,1.000085,1.00009,1.000095,1.0001,1.000105,1.00011,1.000115,1.00012],"format":".5~f","labelExpr":"abs(datum.value*50000-round(datum.value*50000))<1e-4 ? datum.label : ''","tickSize":{"condition":{"test":"abs(datum.value*50000-round(datum.value*50000))<1e-4","value":-10},"value":-5},"tickWidth":{"condition":{"test":"abs(datum.value*50000-round(datum.value*50000))<1e-4","value":2},"value":1},"tickColor":{"condition":{"test":"abs(datum.value*50000-round(datum.value*50000))<1e-4","value":"#000"},"value":"#333"},"labelPadding":18,"titleX":-45,"titleY":200}},
   "strokeDash":{"field":"s","type":"nominal","scale":{"domain":["EXPLICIT (O2)","P-IMEX (O2)","P-IMEX (O1)"],"range":[[1,0],[10,8],[1,1.6]]},"legend":{"legendX":304.7,"legendY":-31.4}}}},
  {"width":437.2,"height":398.8,"data":{"name":"q2"},"mark":{"type":"line","interpolate":"monotone","color":"#000","strokeWidth":1.2},
   "encoding":{"x":{"field":"x","type":"quantitative","title":"x","scale":{"domain":[0,1],"nice":false},"axis":{"values":[0,0.02,0.04,0.06,0.08,0.1,0.12,0.14,0.16,0.18,0.2,0.22,0.24,0.26,0.28,0.3,0.32,0.34,0.36,0.38,0.4,0.42,0.44,0.46,0.48,0.5,0.52,0.54,0.56,0.58,0.6,0.62,0.64,0.66,0.68,0.7,0.72,0.74,0.76,0.78,0.8,0.82,0.84,0.86,0.88,0.9,0.92,0.94,0.96,0.98,1],"format":".2~f","labelExpr":"abs(datum.value*10-round(datum.value*10))<1e-6 ? datum.label : ''","tickSize":{"condition":{"test":"abs(datum.value*10-round(datum.value*10))<1e-6","value":-10},"value":-5},"tickWidth":{"condition":{"test":"abs(datum.value*10-round(datum.value*10))<1e-6","value":2},"value":1},"tickColor":{"condition":{"test":"abs(datum.value*10-round(datum.value*10))<1e-6","value":"#000"},"value":"#333"},"labelPadding":14,"titleX":218,"titleY":19}},
   "y":{"field":"v","type":"quantitative","title":"q","scale":{"domain":[-0.001,0.006],"nice":false},"axis":{"values":[-0.001,-0.00075,-0.0005,-0.00025,0,0.00025,0.0005,0.00075,0.001,0.00125,0.0015,0.00175,0.002,0.00225,0.0025,0.00275,0.003,0.00325,0.0035,0.00375,0.004,0.00425,0.0045,0.00475,0.005,0.00525,0.0055,0.00575,0.006],"format":".3~f","labelExpr":"abs(datum.value*1000-round(datum.value*1000))<1e-6 ? replace(datum.label,'−','-') : ''","tickSize":{"condition":{"test":"abs(datum.value*1000-round(datum.value*1000))<1e-6","value":-10},"value":-5},"tickWidth":{"condition":{"test":"abs(datum.value*1000-round(datum.value*1000))<1e-6","value":2},"value":1},"tickColor":{"condition":{"test":"abs(datum.value*1000-round(datum.value*1000))<1e-6","value":"#000"},"value":"#333"},"labelPadding":18,"titleX":-33,"titleY":200}},
   "strokeDash":{"field":"s","type":"nominal","scale":{"domain":["EXPLICIT (O2)","P-IMEX (O2)","P-IMEX (O1)"],"range":[[1,0],[10,8],[1,1.6]]},"legend":{"legendX":306,"legendY":-33.4}}}}
 ]}
]}
]}
